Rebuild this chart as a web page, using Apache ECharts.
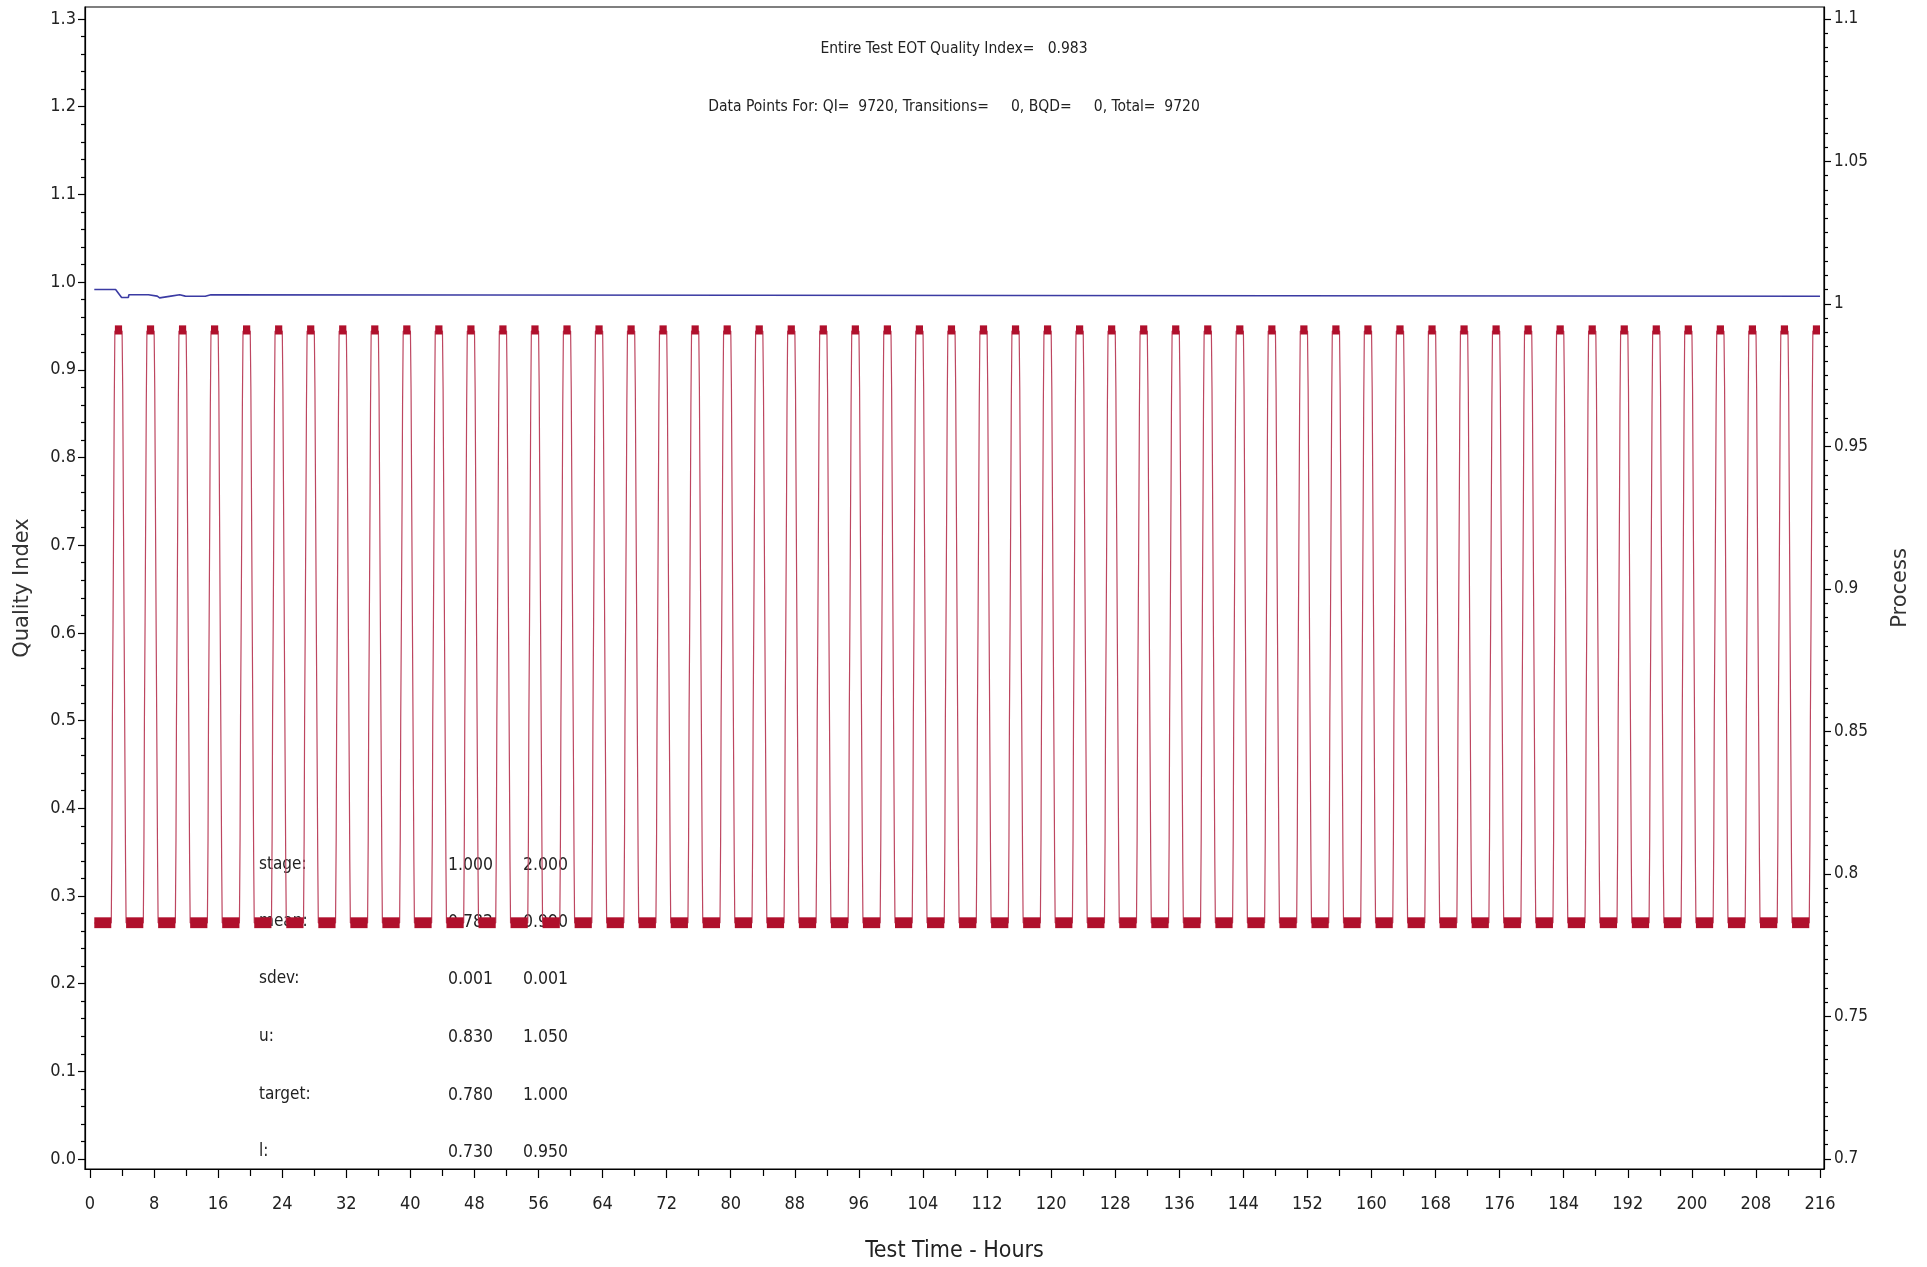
<!DOCTYPE html>
<html><head><meta charset="utf-8">
<script src="https://cdn.jsdelivr.net/npm/echarts@6/dist/echarts.min.js"></script>
<style>html,body{margin:0;padding:0;background:#fff}#c{width:1927px;height:1267px}</style>
</head><body><div id="c"></div><script>
// ---------- data ----------
// Quality Index (left axis) step line
const qiTime  = [0.54, 3.2, 3.95, 4.8, 4.85, 7.3, 7.4, 8.4, 8.5, 8.7, 8.75, 10.1, 10.15, 11.2, 11.25, 11.9, 12.0, 12.1, 12.2, 14.4, 14.45, 15.1, 15.2, 216.0];
const qiValue = [0.9915, 0.9915, 0.9825, 0.9825, 0.9855, 0.9855, 0.984, 0.984, 0.982, 0.982, 0.984, 0.984, 0.9855, 0.9855, 0.984, 0.984, 0.9825, 0.9825, 0.9838, 0.9838, 0.9855, 0.9855, 0.9838, 0.9838];

// Process (right axis): start hour of each rising edge (54 cycles)
const riseStart = [2.66, 6.66, 10.66, 14.66, 18.66, 22.66, 26.66, 30.66, 34.66, 38.66, 42.66, 46.66, 50.66, 54.66, 58.66, 62.66, 66.66, 70.66, 74.66, 78.66, 82.66, 86.66, 90.66, 94.66, 98.66, 102.66, 106.66, 110.66, 114.66, 118.66, 122.66, 126.66, 130.66, 134.66, 138.66, 142.66, 146.66, 150.66, 154.66, 158.66, 162.66, 166.66, 170.66, 174.66, 178.66, 182.66, 186.66, 190.66, 194.66, 198.66, 202.66, 206.66, 210.66, 214.66];
const processStart = 0.54, processEnd = 216.0;
// rising edge (hours after rise start, level)
const riseOffset = [0, 0.08, 0.14, 0.22, 0.31, 0.37, 0.45];
const riseLevel  = [0.7828, 0.812, 0.855, 0.888, 0.932, 0.965, 0.9905];
// falling edge (hours after rise start, level)
const fallOffset = [1.35, 1.43, 1.52, 1.61, 1.70, 1.78, 1.85];
const fallLevel  = [0.9905, 0.970, 0.926, 0.883, 0.842, 0.805, 0.7828];
// noise envelope of the plateaus [low, high]
const lowBand  = [0.7810, 0.7848];
const highBand = [0.9893, 0.9925];

// tick labels
const xMajor = [0,8,16,24,32,40,48,56,64,72,80,88,96,104,112,120,128,136,144,152,160,168,176,184,192,200,208,216];
const xMinor = [4,12,20,28,36,44,52,60,68,76,84,92,100,108,116,124,132,140,148,156,164,172,180,188,196,204,212];
const qiMajor = [0,0.1,0.2,0.3,0.4,0.5,0.6,0.7,0.8,0.9,1.0,1.1,1.2,1.3];
const prMajor = [0.7,0.75,0.8,0.85,0.9,0.95,1.0,1.05,1.1];

// annotation texts
const headerLines = ['Entire Test EOT Quality Index=   0.983', 'Data Points For: QI=  9720, Transitions=     0, BQD=     0, Total=  9720'];
const statNames = ['stage:', 'mean:', 'sdev:', 'u:', 'target:', 'l:'];
const statStage1 = ['1.000', '0.782', '0.001', '0.830', '0.780', '0.730'];
const statStage2 = ['2.000', '0.990', '0.001', '1.050', '1.000', '0.950'];

// ---------- build ----------
function minorTicks(lo, hi, step, majorStep) {
  const out = [];
  const n = Math.round((hi - lo) / step);
  for (let i = 0; i <= n; i++) {
    const v = Math.round((lo + i * step) * 100000) / 100000;
    const r = v / majorStep;
    if (Math.abs(r - Math.round(r)) > 1e-6) out.push(v);
  }
  return out;
}
const qiMinor = minorTicks(0, 1.3, 0.02, 0.1);
const prMinor = minorTicks(0.7, 1.1, 0.005, 0.05);

const qiData = qiTime.map((t, i) => [t, qiValue[i]]);

const processData = [[processStart, riseLevel[0]]];
const bands = [];
let lowFrom = processStart;
riseStart.forEach((cs) => {
  bands.push([lowFrom, cs, lowBand[0], lowBand[1]]);
  riseOffset.forEach((o, j) => processData.push([cs + o, riseLevel[j]]));
  const highFrom = cs + riseOffset[riseOffset.length - 1];
  if (cs + fallOffset[0] < processEnd) {
    bands.push([highFrom, cs + fallOffset[0], highBand[0], highBand[1]]);
    fallOffset.forEach((o, j) => processData.push([cs + o, fallLevel[j]]));
    lowFrom = cs + fallOffset[fallOffset.length - 1];
  } else {
    bands.push([highFrom, processEnd, highBand[0], highBand[1]]);
    processData.push([processEnd, riseLevel[riseLevel.length - 1]]);
  }
});

const NARROW = '"Liberation Sans Narrow","DejaVu Sans Condensed",sans-serif';
const WIDE = '"DejaVu Sans",sans-serif';
const TXT = '#222';
const AX = '#000';

const graphics = [];
headerLines.forEach((s, i) => graphics.push({
  type: 'text', x: 954, y: [49, 107][i], z: 0,
  style: { text: s, font: '15.5px ' + NARROW, fill: TXT, align: 'center', verticalAlign: 'middle' }
}));
const rowY = [865, 922, 979, 1037, 1095, 1152];
statNames.forEach((s, i) => {
  graphics.push({ type: 'text', x: 259, y: rowY[i], z: 0, style: { text: s, font: '17px ' + NARROW, fill: TXT, align: 'left', verticalAlign: 'middle' } });
  graphics.push({ type: 'text', x: 493, y: rowY[i], z: 0, style: { text: statStage1[i], font: '17.5px ' + NARROW, fill: TXT, align: 'right', verticalAlign: 'middle' } });
  graphics.push({ type: 'text', x: 568, y: rowY[i], z: 0, style: { text: statStage2[i], font: '17.5px ' + NARROW, fill: TXT, align: 'right', verticalAlign: 'middle' } });
});

const QI_MIN = -0.0114, QI_MAX = 1.3137;
const PR_MIN = 0.69649, PR_MAX = 1.10421;
const X_MIN = -0.62, X_MAX = 216.5;

function fmtPr(v) { return String(Math.round(v * 1000) / 1000); }

const chart = echarts.init(document.getElementById('c'), null, { renderer: 'canvas' });
chart.setOption({
  animation: false,
  backgroundColor: '#fff',
  grid: { left: 85, right: 103, top: 7, bottom: 98, show: true, borderColor: AX, borderWidth: 1.2, containLabel: false, outerBoundsMode: 'none' },
  graphic: { elements: graphics },
  xAxis: [
    {
      type: 'value', min: X_MIN, max: X_MAX, position: 'bottom',
      name: 'Test Time - Hours', nameLocation: 'middle', nameGap: 71,
      nameTextStyle: { fontSize: 23, fontFamily: NARROW, color: TXT },
      axisLine: { show: true, onZero: false, lineStyle: { color: AX, width: 1.2 } },
      axisTick: { show: true, customValues: xMajor, length: 9, lineStyle: { color: AX, width: 1.2 } },
      axisLabel: { show: true, customValues: xMajor, margin: 26, fontSize: 18, fontFamily: NARROW, color: TXT },
      splitLine: { show: false }
    },
    {
      type: 'value', min: X_MIN, max: X_MAX, position: 'bottom', offset: 0,
      axisLine: { show: false, onZero: false },
      axisTick: { show: true, customValues: xMinor, length: 7, lineStyle: { color: AX, width: 1.2 } },
      axisLabel: { show: false },
      splitLine: { show: false }
    }
  ],
  yAxis: [
    {
      type: 'value', min: QI_MIN, max: QI_MAX, position: 'left',
      name: 'Quality Index', nameLocation: 'middle', nameGap: 52, nameRotate: 90,
      nameTextStyle: { fontSize: 21, fontFamily: WIDE, color: '#333' },
      axisLine: { show: true, onZero: false, lineStyle: { color: AX, width: 1.2 } },
      axisTick: { show: true, customValues: qiMajor, length: 7, lineStyle: { color: AX, width: 1.2 } },
      axisLabel: { show: true, customValues: qiMajor, margin: 9, fontSize: 18, fontFamily: NARROW, color: TXT, formatter: v => v.toFixed(1) },
      splitLine: { show: false }
    },
    {
      type: 'value', min: QI_MIN, max: QI_MAX, position: 'left', offset: 0,
      axisLine: { show: false, onZero: false },
      axisTick: { show: true, customValues: qiMinor, length: 4, lineStyle: { color: AX, width: 1.2 } },
      axisLabel: { show: false }, splitLine: { show: false }
    },
    {
      type: 'value', min: PR_MIN, max: PR_MAX, position: 'right',
      name: 'Process', nameLocation: 'middle', nameGap: 66, nameRotate: 90,
      nameTextStyle: { fontSize: 21, fontFamily: WIDE, color: '#333' },
      axisLine: { show: true, onZero: false, lineStyle: { color: AX, width: 1.2 } },
      axisTick: { show: true, customValues: prMajor, length: 7, lineStyle: { color: AX, width: 1.2 } },
      axisLabel: { show: true, customValues: prMajor, margin: 10, fontSize: 17, fontFamily: NARROW, color: TXT, formatter: fmtPr },
      splitLine: { show: false }
    },
    {
      type: 'value', min: PR_MIN, max: PR_MAX, position: 'right', offset: 0,
      axisLine: { show: false, onZero: false },
      axisTick: { show: true, customValues: prMinor, length: 4, lineStyle: { color: AX, width: 1.2 } },
      axisLabel: { show: false }, splitLine: { show: false }
    }
  ],
  series: [
    {
      name: 'Process', type: 'line', xAxisIndex: 0, yAxisIndex: 2, z: 3,
      data: processData, showSymbol: false, symbol: 'none',
      lineStyle: { color: '#bd4660', width: 1.2 }, itemStyle: { color: '#bd4660' }
    },
    {
      name: 'Process noise', type: 'custom', xAxisIndex: 0, yAxisIndex: 2, z: 5,
      data: bands, encode: { x: [0, 1], y: [2, 3] },
      renderItem: function (params, api) {
        const p0 = api.coord([api.value(0), api.value(3)]);
        const p1 = api.coord([api.value(1), api.value(2)]);
        return { type: 'rect', shape: { x: p0[0], y: p0[1], width: p1[0] - p0[0], height: p1[1] - p0[1] }, style: { fill: '#b0102c' } };
      }
    },
    {
      name: 'Quality Index', type: 'line', xAxisIndex: 0, yAxisIndex: 0, z: 6,
      data: qiData, showSymbol: false, symbol: 'none',
      lineStyle: { color: '#3b3ba3', width: 1.6 }, itemStyle: { color: '#3b3ba3' }
    }
  ]
});
</script></body></html>
